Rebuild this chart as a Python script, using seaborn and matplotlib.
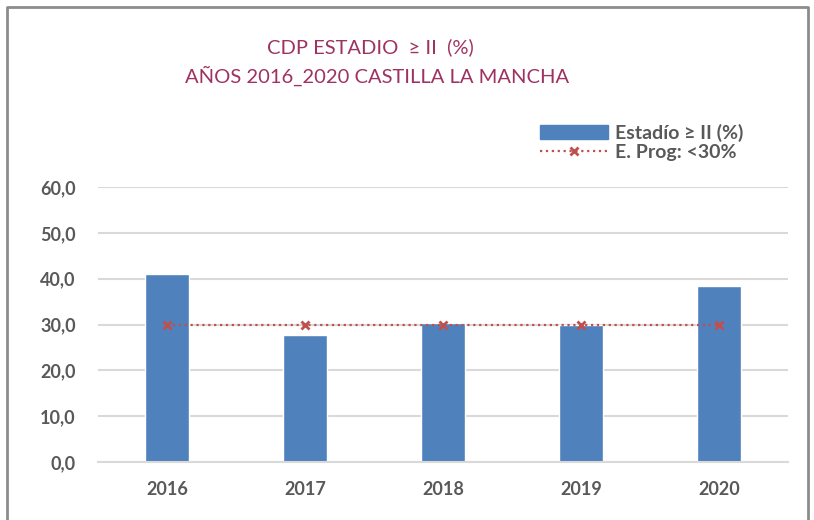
import matplotlib
matplotlib.use("Agg")
import pandas as pd
import seaborn as sns
import matplotlib.pyplot as plt
from matplotlib.lines import Line2D

years = ["2016", "2017", "2018", "2019", "2020"]
estadio = [41.0, 27.7, 30.3, 29.9, 38.5]
objetivo = [30.0, 30.0, 30.0, 30.0, 30.0]
y_ticks = [0, 10, 20, 30, 40, 50, 60]
y_labels = ["0,0", "10,0", "20,0", "30,0", "40,0", "50,0", "60,0"]

bar_color = "#4F81BD"
line_color = "#C0504D"
text_grey = "#595959"
title_color = "#9E3262"


def main():
    sns.set_style("white")
    plt.rcParams["font.family"] = ["Lato", "DejaVu Sans"]

    df = pd.DataFrame({"year": years, "estadio": estadio, "objetivo": objetivo})

    fig = plt.figure(figsize=(8.14, 5.2), dpi=100)
    ax = fig.add_axes([98 / 814, 58 / 520, 690 / 814, 275 / 520])

    sns.barplot(data=df, x="year", y="estadio", color=bar_color, width=0.32,
                saturation=1, ax=ax, zorder=2)
    sns.pointplot(data=df, x="year", y="objetivo", color=line_color, markers="x",
                  linestyles=":", ax=ax, zorder=3,
                  markersize=6, linewidth=1.6, markeredgewidth=2)

    ax.set_ylim(0, 60)
    ax.set_xlim(-0.5, 4.5)
    ax.set_yticks(y_ticks)
    ax.set_yticklabels(y_labels)
    ax.set_xlabel("")
    ax.set_ylabel("")
    ax.yaxis.grid(True, color="#D9D9D9", linewidth=1.5, zorder=0)
    ax.set_axisbelow(True)
    for s in ["top", "right", "left"]:
        ax.spines[s].set_visible(False)
    ax.spines["bottom"].set_color("#D9D9D9")
    ax.spines["bottom"].set_linewidth(1.5)
    ax.tick_params(axis="both", length=0, labelsize=13, labelcolor=text_grey)
    ax.tick_params(axis="y", pad=16)
    ax.tick_params(axis="x", pad=14)
    for lab in ax.get_xticklabels() + ax.get_yticklabels():
        lab.set_fontweight("bold")

    handles = [
        plt.Rectangle((0, 0), 1, 1, color=bar_color),
        Line2D([0], [0], color=line_color, linestyle=":", linewidth=1.6,
               marker="x", markersize=6, markeredgewidth=2),
    ]
    labels = ["Estadío ≥ II (%)", "E. Prog: <30%"]
    leg = fig.legend(handles, labels, loc="upper left", bbox_to_anchor=(540 / 814, 1 - 124 / 520),
                     frameon=False, handlelength=3.5, handleheight=0.75,
                     labelspacing=0.1, handletextpad=0.35, borderpad=0, borderaxespad=0,
                     prop={"weight": "bold", "size": 14})
    for t in leg.get_texts():
        t.set_color(text_grey)

    fig.text(370 / 814, 1 - 47 / 520, "CDP ESTADIO  ≥ II  (%)", ha="center", va="center",
             fontsize=14.5, color=title_color)
    fig.text(377 / 814, 1 - 76 / 520, "AÑOS 2016_2020 CASTILLA LA MANCHA", ha="center",
             va="center", fontsize=14.5, color=title_color)

    # outer frame (left, top, right)
    frame_x = [7 / 814, 7 / 814, 808 / 814, 808 / 814]
    frame_y = [0, 1 - 7 / 520, 1 - 7 / 520, 0]
    fig.add_artist(Line2D(frame_x, frame_y, transform=fig.transFigure,
                          color="#8C8C8C", linewidth=2))

    fig.savefig("out.png", dpi=100)


if __name__ == "__main__":
    main()
